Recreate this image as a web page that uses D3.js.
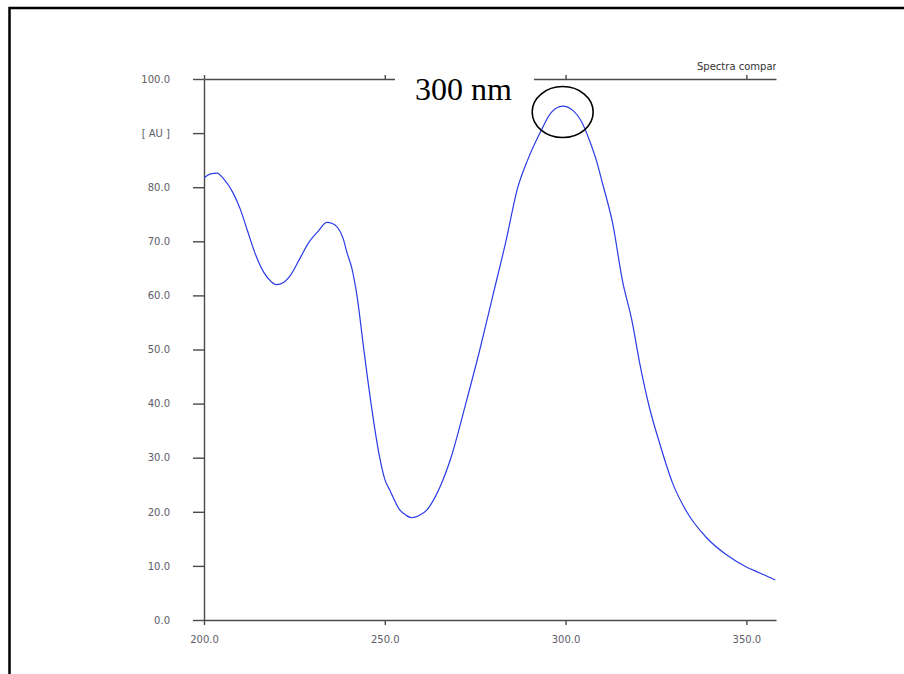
<!DOCTYPE html>
<html lang="en">
<head>
<meta charset="UTF-8">
<title>Spectrum</title>
<style>
    body { margin: 0; background: #fff; }
    svg { display: block; }
    .tick text { font-family: "DejaVu Sans", Verdana, sans-serif; font-size: 10px; fill: #5d5d68; }
    .axis path, .axis line { stroke: #4a4a4a; stroke-width: 1.4; }
</style>
</head>
<body>
<div id="chart"></div>
<script src="https://cdn.jsdelivr.net/npm/d3@7"></script>
<script>
    // wavelength (nm) and absorbance (AU)
    const wavelengths = [200, 202, 203.6, 205.5, 208, 210, 212, 214, 216.5, 218.5, 220, 222, 224, 226.5, 229, 231.5,
        234, 235.5, 237, 238.5, 239.5, 240.9, 242.3, 244.2, 246.2, 248.6, 250, 251.4, 254.2, 256, 257.5, 259.5,
        261.6, 263.5, 265.2, 268.3, 272.4, 276.3, 279.9, 283.5, 286.8, 289.5, 292.9, 296, 299.2, 302, 304.5,
        306.7, 308.5, 310.3, 313, 315.8, 318.3, 320.5, 323.3, 326, 329.6, 333.5, 339, 344.6, 350, 353.7, 358];
    const absorbance = [81.7, 82.5, 82.6, 81.5, 79.0, 76.0, 72.0, 68.0, 64.3, 62.6, 62.0, 62.4, 63.8, 66.8, 69.8, 71.8,
        73.5, 73.3, 72.5, 70.5, 68.0, 65.0, 60.0, 50.0, 40.0, 30.0, 26.0, 24.0, 20.3, 19.3, 18.9, 19.3,
        20.3, 22.2, 24.5, 30.0, 40.0, 50.0, 60.0, 70.0, 80.0, 85.0, 90.0, 93.8, 95.0, 94.2, 92.0,
        88.5, 85.0, 80.5, 73.4, 62.5, 55.5, 47.5, 39.0, 32.7, 25.3, 20.0, 15.2, 12.0, 9.8, 8.7, 7.4];
    const xTicks = [200, 250, 300, 350];
    const yTicks = [0, 10, 20, 30, 40, 50, 60, 70, 80, 90, 100];
    const yUnit = "[ AU ]";
    const peakLabel = "300 nm";
    const peakNm = 299.2;
    const titleText = "Spectra comparison";

    const svg = d3.select("#chart").append("svg")
        .attr("width", 904)
        .attr("height", 674);

    // outer frame
    svg.append("rect")
        .attr("x", 9.5).attr("y", 8)
        .attr("width", 1000).attr("height", 1000)
        .attr("fill", "none")
        .attr("stroke", "#000")
        .attr("stroke-width", 2.5);

    const x = d3.scaleLinear().domain([200, 358.2]).range([204, 776]);
    const y = d3.scaleLinear().domain([0, 100]).range([620, 79]);

    const defs = svg.append("defs");
    defs.append("clipPath").attr("id", "plot")
        .append("rect").attr("x", 204).attr("y", 60).attr("width", 572).attr("height", 570);
    defs.append("clipPath").attr("id", "titleclip")
        .append("rect").attr("x", 600).attr("y", 50).attr("width", 176).attr("height", 30);

    // small title at the top right, cut by the plot edge
    svg.append("text")
        .attr("x", 697).attr("y", 70)
        .attr("clip-path", "url(#titleclip)")
        .style("font-family", "DejaVu Sans, Verdana, sans-serif")
        .style("font-size", "10px")
        .style("fill", "#333")
        .text(titleText);

    svg.append("g")
        .attr("class", "axis")
        .attr("transform", "translate(204,0)")
        .call(d3.axisLeft(y).tickValues(yTicks).tickSizeInner(11).tickSizeOuter(0).tickPadding(23)
            .tickFormat(d => d === 90 ? yUnit : d3.format(".1f")(d)));

    svg.append("g")
        .attr("class", "axis")
        .attr("transform", "translate(0,620)")
        .call(d3.axisBottom(x).tickValues(xTicks).tickSizeInner(5).tickSizeOuter(0).tickPadding(11)
            .tickFormat(d3.format(".1f")));

    svg.append("g")
        .attr("class", "axis")
        .attr("transform", "translate(0,79)")
        .call(d3.axisTop(x).tickValues(xTicks).tickSizeInner(4).tickSizeOuter(0).tickFormat(""));

    const line = d3.line()
        .x((d, i) => x(wavelengths[i]))
        .y(d => y(d))
        .curve(d3.curveMonotoneX);

    svg.append("path")
        .datum(absorbance)
        .attr("clip-path", "url(#plot)")
        .attr("fill", "none")
        .attr("stroke", "#2a3ce6")
        .attr("stroke-width", 1.2)
        .attr("d", line);

    // peak annotation
    svg.append("rect")
        .attr("x", 395).attr("y", 62)
        .attr("width", 139).attr("height", 44)
        .attr("fill", "#fff");
    svg.append("text")
        .attr("x", 415).attr("y", 100)
        .style("font-family", "Liberation Serif, Times New Roman, serif")
        .style("font-size", "32px")
        .style("fill", "#000")
        .text(peakLabel);
    svg.append("ellipse")
        .attr("cx", x(peakNm)).attr("cy", y(95) + 6)
        .attr("rx", 30.5).attr("ry", 25.5)
        .attr("fill", "none")
        .attr("stroke", "#000")
        .attr("stroke-width", 1.6);
</script>
</body>
</html>
